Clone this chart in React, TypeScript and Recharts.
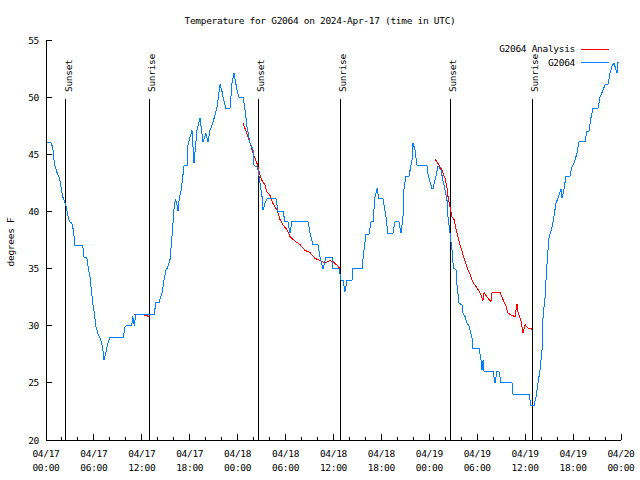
import React from "react";
import { LineChart, Line, XAxis, YAxis, ReferenceLine, Legend } from "recharts";

// hours since 04/17 00:00 UTC, temperatures in degrees F
const obsHours = [
  0, 0.63, 0.84, 1.04, 1.38, 1.63, 1.75, 2.09, 2.5, 2.67, 2.92, 3.22, 3.42, 3.63, 4.6, 4.76, 5.1, 5.3, 5.51, 5.63,
  5.85, 6.05, 6.26, 6.55, 6.85, 7.1, 7.26, 7.45, 7.6, 7.8, 8.01, 9.68, 9.89, 10.1, 10.73, 10.86, 11.06, 11.23, 13.56,
  13.74, 14.15, 14.36, 14.56, 14.78, 15.03, 15.24, 15.53, 15.74, 15.86, 16.07, 16.24, 16.37, 16.53, 16.69, 16.94,
  17.12, 17.28, 17.66, 17.78, 18.03, 18.28, 18.53, 18.91, 19.28, 19.66, 20.03, 20.29, 20.54, 20.91, 21.41, 21.79,
  22.04, 22.16, 22.54, 23.04, 23.29, 23.54, 23.92, 24.17, 24.67, 24.92, 25.17, 25.54, 25.92, 26.05, 26.42, 26.55,
  26.8, 27.05, 27.17, 27.42, 27.67, 28.8, 29.05, 29.68, 29.93, 30.3, 30.55, 30.8, 32.81, 33.06, 33.43, 34.06, 34.31,
  34.69, 35.06, 35.81, 35.94, 36.69, 36.94, 37.19, 37.44, 37.69, 38.32, 38.44, 39.57, 39.82, 40.07, 40.45, 40.7,
  40.95, 41.2, 41.45, 41.7, 42.2, 42.57, 42.82, 43.45, 43.7, 44.2, 44.45, 44.7, 44.83, 45.08, 45.45, 45.83, 45.95,
  46.2, 46.46, 47.71, 47.83, 48.08, 48.33, 48.46, 48.83, 49.09, 49.46, 49.71, 49.96, 50.21, 50.34, 50.59, 50.84,
  50.96, 51.09, 51.34, 51.46, 51.71, 52.09, 52.22, 52.47, 52.72, 52.97, 53.35, 53.47, 54.23, 54.48, 54.6, 54.73,
  54.85, 55.98, 56.22, 56.47, 56.72, 56.97, 58.35, 58.48, 60.48, 60.73, 61.11, 61.36, 61.61, 61.86, 62.11, 62.24,
  62.48, 62.61, 62.74, 62.86, 62.99, 63.36, 63.49, 63.86, 64.11, 64.36, 64.49, 64.61, 64.86, 65.11, 65.61, 65.86,
  66.11, 66.49, 66.74, 67.49, 67.74, 67.99, 68.24, 68.49, 69.12, 69.37, 69.75, 70.0, 70.37, 70.62, 70.87, 71.12,
  71.37, 71.5, 71.62, 71.75,
];
const obsTemps = [
  46, 46, 45.6, 44.2, 43.4, 43, 42.7, 41.3, 40.5, 39.9, 39.1, 39, 38.4, 37, 37, 36, 36, 35, 34.3, 33.4,
  32, 31.1, 29.9, 29.2, 28.8, 28, 27, 27.5, 28, 28.6, 29, 29, 29.9, 30, 30, 30.8, 30, 31, 31,
  32, 32, 32.5, 32.9, 34, 34.9, 35.1, 35.8, 37.5, 38.5, 40.6, 41, 40.7, 40, 41.2, 41.9,
  43, 44, 44, 45.8, 46.5, 47.1, 44.2, 47.1, 48.2, 46.1, 46.8, 46.1, 47.1, 47.8, 49.1, 51.1,
  50.5, 50, 49, 49, 51.2, 52.1, 50.6, 50, 50, 48.9, 47.4, 46, 45.4, 44, 43.9, 43.6,
  42.5, 41.3, 40.1, 40.7, 41.1, 41.1, 40, 40, 39.1, 39.1, 38.1, 39.1, 39.1, 38.1, 37.1, 37.1, 36,
  35, 36, 36, 35, 35, 34, 34, 33, 34, 34, 35, 35, 36.6, 38, 38, 39.1,
  39.1, 41.3, 42, 41.1, 41.1, 39.5, 38.1, 38.1, 39.1, 39.1, 38.1, 39.5, 42, 43.1, 43.1, 44.5, 46,
  45.4, 44, 44, 43.3, 42.6, 42, 42, 43.1, 44, 43.6, 42.7, 41.9, 41, 39.5, 38.1, 36.6,
  35.5, 35, 34.9, 33.6, 32, 31.8, 31.1, 30.8, 30.2, 30, 28.9, 28, 28, 27, 26.1, 27,
  26, 26, 25, 26, 26, 25, 25, 24, 24, 23, 23, 23.8, 25, 26.1, 27.9, 30.8,
  32.4, 34, 35.5, 36.6, 37.7, 38.6, 39.1, 40.7, 41.2, 41.7, 42, 41.2, 41.9, 43.1, 43.1, 43.9,
  44.2, 45.1, 46.1, 46.1, 47, 47, 48.2, 49, 49, 50, 50.6, 51.1, 51.1, 52.1, 52.7, 53,
  52.4, 52.1, 53, 53,
];

const anaHoursA = [11.06, 11.77, 12.52, 12.9];
const anaTempsA = [31.0, 31.0, 30.9, 30.8];
const anaHoursB = [
  24.67, 25.17, 25.54, 25.92, 26.42, 26.8, 27.05, 27.42, 27.67, 28.05, 28.42, 28.93, 29.3, 29.68, 30.18, 30.55,
  31.18, 31.81, 32.43, 33.06, 33.68, 34.31, 34.94, 35.56, 35.94, 36.44, 36.81,
];
const anaTempsB = [
  47.7, 46.8, 46, 45.1, 44.2, 43.2, 42.7, 42.3, 41.7, 41.4, 40.7, 40.1, 39.3, 38.8, 38.4, 37.8,
  37.4, 37.1, 36.6, 36.4, 35.9, 35.7, 35.5, 35.7, 35.6, 35.3, 35,
];
const anaHoursC = [
  48.71, 49.09, 49.59, 49.96, 50.21, 50.34, 50.59, 50.84, 51.09, 51.46, 51.84, 52.22, 52.72, 53.09, 53.47, 53.97,
  54.34, 54.72, 54.85, 55.35, 55.72, 55.85, 56.85, 57.22, 57.6, 57.85, 58.35, 58.73, 58.98, 59.1, 59.48, 59.73,
  59.98, 60.35, 60.85,
];
const anaTempsC = [
  44.6, 44.2, 43.6, 42.9, 42.1, 41.3, 40.4, 39.5, 39.3, 38.1, 37.1, 36.2, 35.1, 34.5, 33.8, 33.3,
  32.9, 32.2, 32.9, 32.4, 32.1, 32.9, 32.9, 32.3, 31.7, 31.1, 30.9, 30.8, 31.9, 31.2, 30.4, 29.4,
  30.1, 29.8, 29.7,
];

const sunHours = [2.5, 12.9, 26.58, 36.85, 50.63, 60.9];
const sunLabels = ["Sunset", "Sunrise", "Sunset", "Sunrise", "Sunset", "Sunrise"];

const xTicks = [0, 2, 4, 6, 8, 10, 12, 14, 16, 18, 20, 22, 24, 26, 28, 30, 32, 34, 36, 38, 40, 42, 44, 46, 48, 50, 52, 54, 56, 58, 60, 62, 64, 66, 68, 70, 72];
const xDays = ["04/17", "04/17", "04/17", "04/17", "04/18", "04/18", "04/18", "04/18", "04/19", "04/19", "04/19", "04/19", "04/20"];
const xTimes = ["00:00", "06:00", "12:00", "18:00", "00:00", "06:00", "12:00", "18:00", "00:00", "06:00", "12:00", "18:00", "00:00"];
const yTicks = [20, 25, 30, 35, 40, 45, 50, 55];

const obsData = obsHours.map((h, i) => ({ h, t: obsTemps[i] }));
const anaA = anaHoursA.map((h, i) => ({ h, t: anaTempsA[i] }));
const anaB = anaHoursB.map((h, i) => ({ h, t: anaTempsB[i] }));
const anaC = anaHoursC.map((h, i) => ({ h, t: anaTempsC[i] }));

const FONT = "'DejaVu Sans Mono', monospace";
const FS = 9.5;
const LS = -0.3;
const RED = "#ff0000";
const BLUE = "#0080ff";

const txt = { fontFamily: FONT, fontSize: FS, letterSpacing: LS, fill: "#000" };

function BottomTick(props: any) {
  const { x, y, payload } = props;
  const v = payload.value;
  const major = v % 6 === 0;
  const i = v / 6;
  return (
    <g>
      <line x1={x} x2={x} y1={y} y2={y - (major ? 6 : 3)} stroke="#000" shapeRendering="crispEdges" />
      {major && (
        <text x={x} y={y + 17} textAnchor="middle" style={txt}>
          <tspan x={x}>{xDays[i]}</tspan>
          <tspan x={x} dy={14}>{xTimes[i]}</tspan>
        </text>
      )}
    </g>
  );
}

function TopTick(props: any) {
  const { x, y, payload } = props;
  const major = payload.value % 6 === 0;
  return <line x1={x} x2={x} y1={y} y2={y + (major ? 6 : 3)} stroke="#000" shapeRendering="crispEdges" />;
}

function LeftTick(props: any) {
  const { x, y, payload } = props;
  return (
    <g>
      <line x1={x} x2={x + 6} y1={y} y2={y} stroke="#000" shapeRendering="crispEdges" />
      <text x={x - 7} y={y + 3.5} textAnchor="end" style={txt}>
        {payload.value}
      </text>
    </g>
  );
}

function RightTick(props: any) {
  const { x, y } = props;
  return <line x1={x} x2={x - 6} y1={y} y2={y} stroke="#000" shapeRendering="crispEdges" />;
}

function SunMark(props: any) {
  const { x1, y1, y2, label } = props;
  const top = Math.min(y1, y2);
  const bottom = Math.max(y1, y2);
  return (
    <g>
      <line x1={x1} x2={x1} y1={top + 59} y2={bottom} stroke="#000" shapeRendering="crispEdges" />
      <text x={x1 + 6} y={top + 52} transform={`rotate(-90 ${x1 + 6} ${top + 52})`} style={txt}>
        {label}
      </text>
    </g>
  );
}

function LegendBox() {
  return (
    <svg width={215} height={30} style={{ display: "block" }}>
      <text x={175} y={12} textAnchor="end" style={txt}>G2064 Analysis</text>
      <line x1={181} x2={209} y1={9} y2={9} stroke={RED} shapeRendering="crispEdges" />
      <text x={175} y={26} textAnchor="end" style={txt}>G2064</text>
      <line x1={181} x2={209} y1={22} y2={22} stroke={BLUE} shapeRendering="crispEdges" />
    </svg>
  );
}

export default function App() {
  return (
    <div style={{ position: "absolute", left: 0, top: 0, width: 640, height: 480, background: "#fff" }}>
      <LineChart width={640} height={480} margin={{ top: 40, right: 19, bottom: 0, left: 0 }}>
        <XAxis
          xAxisId="b"
          dataKey="h"
          type="number"
          domain={[0, 72]}
          allowDataOverflow
          ticks={xTicks}
          interval={0}
          height={40}
          tickSize={0}
          tickMargin={0}
          tickLine={false}
          axisLine={{ stroke: "#000", shapeRendering: "crispEdges" }}
          tick={BottomTick}
        />
        <XAxis
          xAxisId="t"
          orientation="top"
          dataKey="h"
          type="number"
          domain={[0, 72]}
          allowDataOverflow
          ticks={xTicks}
          interval={0}
          height={0}
          tickSize={0}
          tickMargin={0}
          tickLine={false}
          axisLine={{ stroke: "#000", shapeRendering: "crispEdges" }}
          tick={TopTick}
        />
        <YAxis
          yAxisId="l"
          type="number"
          domain={[20, 55]}
          allowDataOverflow
          ticks={yTicks}
          interval={0}
          width={46}
          tickSize={0}
          tickMargin={0}
          tickLine={false}
          axisLine={{ stroke: "#000", shapeRendering: "crispEdges" }}
          tick={LeftTick}
        />
        <YAxis
          yAxisId="r"
          orientation="right"
          type="number"
          domain={[20, 55]}
          allowDataOverflow
          ticks={yTicks}
          interval={0}
          width={0}
          tickSize={0}
          tickMargin={0}
          tickLine={false}
          axisLine={{ stroke: "#000", shapeRendering: "crispEdges" }}
          tick={RightTick}
        />
        {sunHours.map((h, i) => (
          <ReferenceLine
            key={`sun-${i}`}
            xAxisId="b"
            yAxisId="l"
            x={h}
            stroke="#000"
            shape={(p: any) => <SunMark {...p} label={sunLabels[i]} />}
          />
        ))}
        {[anaA, anaB, anaC].map((d, i) => (
          <Line
            key={`ana-${i}`}
            xAxisId="b"
            yAxisId="l"
            data={d}
            dataKey="t"
            type="linear"
            stroke={RED}
            strokeWidth={1}
            dot={false}
            activeDot={false}
            legendType="none"
            isAnimationActive={false}
            shapeRendering="crispEdges"
          />
        ))}
        <Line
          xAxisId="b"
          yAxisId="l"
          data={obsData}
          dataKey="t"
          type="linear"
          stroke={BLUE}
          strokeWidth={1}
          dot={false}
          activeDot={false}
          isAnimationActive={false}
          shapeRendering="crispEdges"
        />
        <Legend
          layout="horizontal"
          verticalAlign="middle"
          align="center"
          content={() => <LegendBox />}
          wrapperStyle={{ top: 40, left: 400, width: 215, height: 30 }}
        />
      </LineChart>
      <svg width={640} height={480} style={{ position: "absolute", left: 0, top: 0, pointerEvents: "none" }}>
        <text x={320} y={24} textAnchor="middle" style={txt}>
          Temperature for G2064 on 2024-Apr-17 (time in UTC)
        </text>
        <text x={14} y={242} textAnchor="middle" transform="rotate(-90 14 242)" style={txt}>
          degrees F
        </text>
      </svg>
    </div>
  );
}
